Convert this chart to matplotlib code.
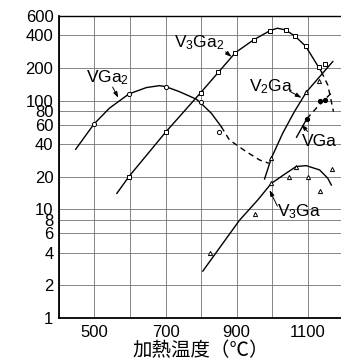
import matplotlib
matplotlib.use("Agg")
import matplotlib.pyplot as plt

plt.rcParams['font.family'] = ['Liberation Sans', 'DejaVu Sans']
plt.rcParams['mathtext.fontset'] = 'custom'
plt.rcParams['mathtext.rm'] = 'Liberation Sans'
plt.rcParams['mathtext.it'] = 'Liberation Sans'

# 軸の目盛り
x_ticks = [400, 500, 600, 700, 800, 900, 1000, 1100, 1200]
x_labels = ['', '500', '', '700', '', '900', '', '1100', '']
y_ticks = [1, 2, 4, 6, 8, 10, 20, 40, 60, 80, 100, 200, 400, 600]
y_labels = ['1', '2', '4', '6', '8', '10', '20', '40', '60', '80', '100', '200', '400', '600']

# VGa2
vga2_pt_t = [500, 597, 700, 800, 850]
vga2_pt_v = [61, 115, 134, 96, 51]
vga2_line_t = [447, 498, 542, 597, 646, 683, 700, 739, 787, 798, 829, 857]
vga2_line_v = [35.6, 60.5, 85, 115, 131.5, 137, 134.3, 120.7, 102.8, 95.7, 76.4, 57.5]
vga2_dash_t = [857, 880, 927, 965, 991]
vga2_dash_v = [57.5, 43.4, 33.9, 28.4, 26.5]

# V3Ga2
v3ga2_pt_t = [597, 700, 799, 849, 897, 948, 995, 1038, 1065, 1095, 1133, 1148]
v3ga2_pt_v = [20, 51, 118, 182, 276, 361, 440, 446, 390, 315, 205, 216]
v3ga2_line_t = [563, 597, 700, 799, 849, 897, 948, 995, 1015, 1038, 1065, 1095, 1139]
v3ga2_line_v = [14, 20, 51, 118, 182, 276, 361, 440, 462, 446, 390, 315, 184]
v3ga2_dash_t = [1139, 1157, 1167, 1173]
v3ga2_dash_v = [184, 139, 98, 79]

# V2Ga
v2ga_pt_t = [998, 1097, 1132]
v2ga_pt_v = [29.5, 120, 151]
v2ga_line_t = [979, 998, 1030, 1063, 1097, 1171]
v2ga_line_v = [19, 29.5, 50, 79, 120, 228]

# VGa
vga_pt_t = [1098, 1134, 1150]
vga_pt_v = [68, 99, 101]
vga_line_t = [1069, 1098]
vga_line_v = [46, 68]
vga_dash_t = [1098, 1134, 1167]
vga_dash_v = [68, 92, 117]

# V3Ga
v3ga_pt_t = [824, 953, 998, 1049, 1068, 1101, 1134, 1169]
v3ga_pt_v = [4.0, 9.0, 17.3, 19.9, 24.7, 19.9, 14.8, 23.4]
v3ga_line_t = [805, 908, 960, 998, 1040, 1068, 1096, 1134, 1157, 1167]
v3ga_line_v = [2.7, 7.9, 12.2, 17.3, 21.5, 24.7, 25.2, 23, 19.3, 16.7]

fig = plt.figure(figsize=(3.41, 3.61), dpi=100)
ax = fig.add_axes([0.173, 0.119, 0.833, 0.837])
ax.set_yscale('log')
ax.set_xlim(400, 1200)
ax.set_ylim(1, 600)

lc = 'black'
ax.plot(vga2_line_t, vga2_line_v, color=lc, lw=1.0)
ax.plot(vga2_dash_t, vga2_dash_v, color=lc, lw=1.0, ls=(0, (4, 3)))
ax.plot(v3ga2_line_t, v3ga2_line_v, color=lc, lw=1.0)
ax.plot(v3ga2_dash_t, v3ga2_dash_v, color=lc, lw=1.0, ls=(0, (4, 3)))
ax.plot(v2ga_line_t, v2ga_line_v, color=lc, lw=1.0)
ax.plot(vga_line_t, vga_line_v, color=lc, lw=1.0)
ax.plot(vga_dash_t, vga_dash_v, color=lc, lw=1.0, ls=(0, (4, 3)))
ax.plot(v3ga_line_t, v3ga_line_v, color=lc, lw=1.0)

mk = dict(ls='none', ms=3.0, mew=0.7, mec='black', mfc='white')
ax.plot(vga2_pt_t, vga2_pt_v, marker='o', **mk)
ax.plot(v3ga2_pt_t, v3ga2_pt_v, marker='s', **mk)
ax.plot(v2ga_pt_t, v2ga_pt_v, marker='^', **mk)
ax.plot(v3ga_pt_t, v3ga_pt_v, marker='^', **mk)
ax.plot(vga_pt_t, vga_pt_v, marker='o', ls='none', ms=2.8, color='black')

# ラベルと引き出し線
fs = 12.5
arr = dict(arrowstyle='-|>,head_length=0.35,head_width=0.12', color='black', lw=0.7,
           shrinkA=0, shrinkB=0)
ax.text(475, 161, r'VGa$_2$', fontsize=fs, ha='left', va='center')
ax.annotate('', xy=(567, 106), xytext=(551, 133), arrowprops=arr)
ax.text(725, 339, r'V$_3$Ga$_2$', fontsize=fs, ha='left', va='center')
ax.annotate('', xy=(886, 252), xytext=(869, 280), arrowprops=arr)
ax.text(934, 133, r'V$_2$Ga', fontsize=fs, ha='left', va='center')
ax.annotate('', xy=(1083, 106), xytext=(1049, 122), arrowprops=arr)
ax.text(1083, 41.6, 'VGa', fontsize=fs, ha='left', va='center')
ax.annotate('', xy=(1083, 60), xytext=(1100, 52), arrowprops=arr)
ax.text(1015, 9.45, r'V$_3$Ga', fontsize=fs, ha='left', va='center')
ax.annotate('', xy=(993, 15), xytext=(1015, 10.7), arrowprops=arr)

ax.set_xticks(x_ticks)
ax.set_xticklabels(x_labels)
ax.set_yticks(y_ticks)
ax.set_yticklabels(y_labels)
ax.minorticks_off()
ax.tick_params(axis='x', length=0, labelsize=12, pad=5)
ax.tick_params(axis='y', length=0, labelsize=12, pad=4)
ax.grid(True, color='0.45', lw=0.6)

ax.spines['right'].set_visible(False)
ax.spines['left'].set_linewidth(1.3)
ax.spines['bottom'].set_linewidth(1.3)
ax.spines['top'].set_linewidth(1.0)

ax.set_xlabel('加熱温度（℃）', fontsize=14, labelpad=0,
              family=['Noto Sans CJK JP', 'DejaVu Sans'])

fig.savefig('out.png', dpi=100)
